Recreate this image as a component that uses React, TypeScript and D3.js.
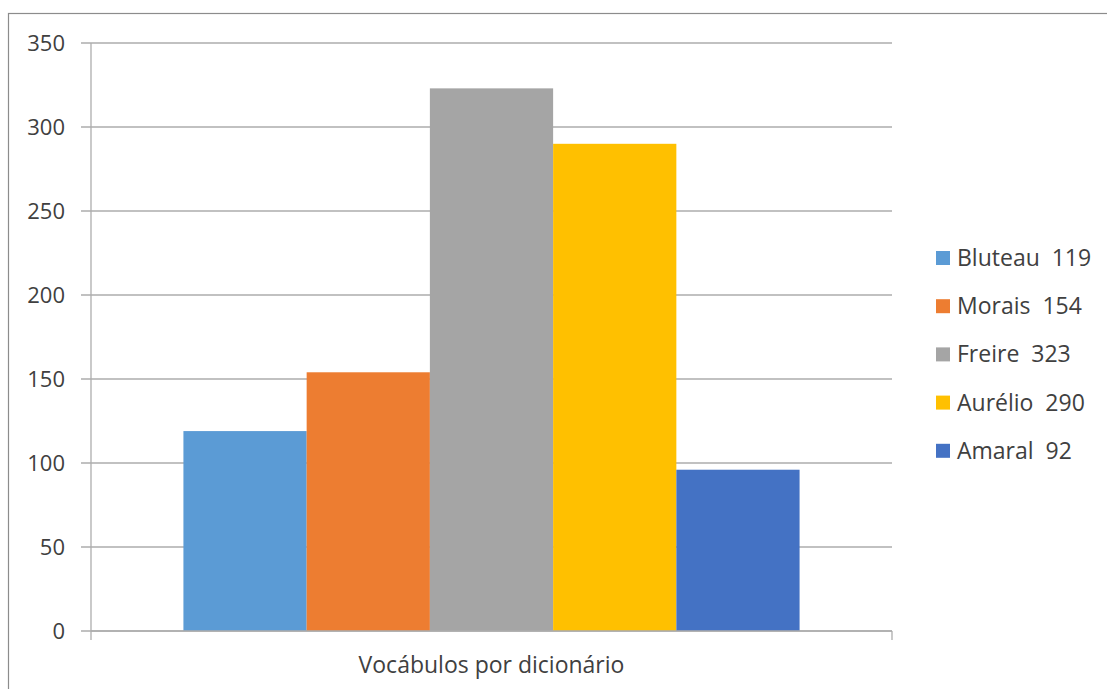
import React from "react";
import * as d3 from "d3";

const categories = ["Vocábulos por dicionário"];
const seriesNames = ["Bluteau", "Morais", "Freire", "Aurélio", "Amaral"];
const legendLabels = ["Bluteau  119", "Morais  154", "Freire  323", "Aurélio  290", "Amaral  92"];
const seriesValues = [119, 154, 323, 290, 96];
const seriesColors = ["#5B9BD5", "#ED7D31", "#A5A5A5", "#FFC000", "#4472C4"];
const yTicks = [0, 50, 100, 150, 200, 250, 300, 350];

const W = 1107;
const H = 689;
const FONT = "'Open Sans', 'Noto Sans', sans-serif";

export default function App() {
  const left = 91, right = 892, top = 43, bottom = 631;
  const y = d3.scaleLinear().domain([0, 350]).range([bottom, top]);
  const x0 = d3.scaleBand().domain(categories).range([left, right]).paddingOuter(0.15).paddingInner(0);
  const x1 = d3.scaleBand().domain(seriesNames).range([0, x0.bandwidth()]).padding(0);
  const grid = "#ADADAD";
  const text = "#404040";
  return (
    <svg width={W} height={H} style={{ position: "absolute", left: 0, top: 0, background: "#fff" }}>
      <rect x={8.5} y={13.5} width={W + 10} height={H + 10} fill="#fff" stroke="#8c8c8c" strokeWidth={1.2} />
      {yTicks.map((t) => (
        <g key={t}>
          <line x1={81} x2={right} y1={y(t)} y2={y(t)} stroke={grid} strokeWidth={1.3} />
          <text x={65} y={y(t)} dy="0.35em" textAnchor="end" fontFamily={FONT} fontSize={22} fill={text}>
            {t}
          </text>
        </g>
      ))}
      {categories.map((c) => (
        <g key={c} transform={`translate(${x0(c)},0)`}>
          {seriesNames.map((s, i) => (
            <rect
              key={s}
              x={x1(s)}
              y={y(seriesValues[i])}
              width={x1.bandwidth()}
              height={bottom - y(seriesValues[i])}
              fill={seriesColors[i]}
            />
          ))}
          <text x={x0.bandwidth() / 2} y={665} dy="0.35em" textAnchor="middle" fontFamily={FONT} fontSize={23} fill={text}>
            {c}
          </text>
        </g>
      ))}
      <line x1={left} x2={left} y1={top} y2={640} stroke={grid} strokeWidth={1.3} />
      <line x1={left} x2={right} y1={bottom} y2={bottom} stroke={grid} strokeWidth={1.3} />
      <line x1={right} x2={right} y1={bottom} y2={640} stroke={grid} strokeWidth={1.3} />
      {legendLabels.map((l, i) => {
        const cy = 258 + i * 48.2;
        return (
          <g key={l}>
            <rect x={936} y={cy - 7} width={14} height={14} fill={seriesColors[i]} />
            <text
              x={957}
              y={cy}
              dy="0.35em"
              fontFamily={FONT}
              fontSize={23}
              fill={text}
              style={{ whiteSpace: "pre" }}
              xmlSpace="preserve"
            >
              {l}
            </text>
          </g>
        );
      })}
    </svg>
  );
}
